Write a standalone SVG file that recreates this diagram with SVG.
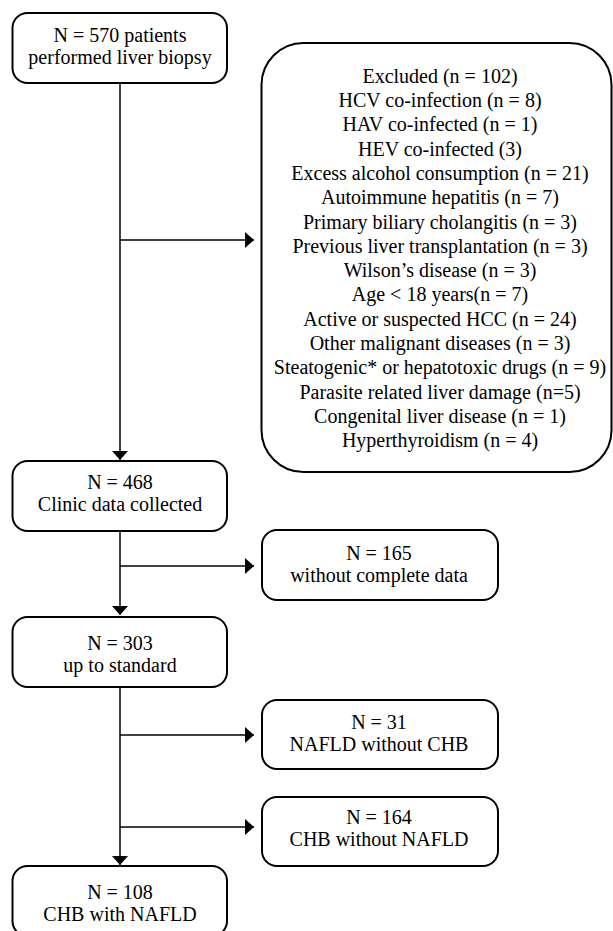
<svg xmlns="http://www.w3.org/2000/svg" width="613" height="931" viewBox="0 0 613 931">
  <defs>
    <style>
      .box { fill: #ffffff; stroke: #000000; stroke-width: 2; }
      .txt { font-family: "Liberation Serif", "DejaVu Serif", serif; font-size: 20px; fill: #000000; text-anchor: middle; }
      .conn { stroke: #000000; stroke-width: 1.5; fill: none; }
    </style>
    <marker id="arrow" markerUnits="userSpaceOnUse" markerWidth="10" markerHeight="17" refX="9" refY="8" orient="auto" viewBox="0 0 10 17">
      <path d="M0,0 L9,8 L0,16 z" fill="#000000"/>
    </marker>
  </defs>
  <rect width="613" height="931" fill="#ffffff"/>

  <g id="connectors">
    <line class="conn" x1="120" y1="83" x2="120" y2="460" marker-end="url(#arrow)"/>
    <line class="conn" x1="120" y1="240" x2="254" y2="240" marker-end="url(#arrow)"/>
    <line class="conn" x1="120" y1="531" x2="120" y2="615" marker-end="url(#arrow)"/>
    <line class="conn" x1="120" y1="566" x2="254" y2="566" marker-end="url(#arrow)"/>
    <line class="conn" x1="120" y1="687" x2="120" y2="865" marker-end="url(#arrow)"/>
    <line class="conn" x1="120" y1="735" x2="254" y2="735" marker-end="url(#arrow)"/>
    <line class="conn" x1="120" y1="827" x2="254" y2="827" marker-end="url(#arrow)"/>
  </g>

  <g id="node-start">
    <rect class="box" x="12.5" y="13" width="214.5" height="70" rx="15"/>
    <text class="txt" x="120" y="42">N = 570 patients</text>
    <text class="txt" x="120" y="64">performed liver biopsy</text>
  </g>

  <g id="node-excluded">
    <rect class="box" x="261.5" y="43" width="350" height="429" rx="42"/>
    <text class="txt" x="440" y="82.7">Excluded (n = 102)</text>
    <text class="txt" x="440" y="107">HCV co-infection (n = 8)</text>
    <text class="txt" x="440" y="131.3">HAV co-infected (n = 1)</text>
    <text class="txt" x="440" y="155.6">HEV co-infected (3)</text>
    <text class="txt" x="440" y="179.9">Excess alcohol consumption (n = 21)</text>
    <text class="txt" x="440" y="204.2">Autoimmune hepatitis (n = 7)</text>
    <text class="txt" x="440" y="228.5">Primary biliary cholangitis (n = 3)</text>
    <text class="txt" x="440" y="252.8">Previous liver transplantation (n = 3)</text>
    <text class="txt" x="440" y="277.1">Wilson’s disease (n = 3)</text>
    <text class="txt" x="440" y="301.4">Age &lt; 18 years(n = 7)</text>
    <text class="txt" x="440" y="325.7">Active or suspected HCC (n = 24)</text>
    <text class="txt" x="440" y="350">Other malignant diseases (n = 3)</text>
    <text class="txt" x="440" y="374.3">Steatogenic* or hepatotoxic drugs (n = 9)</text>
    <text class="txt" x="440" y="398.6">Parasite related liver damage (n=5)</text>
    <text class="txt" x="440" y="422.9">Congenital liver disease (n = 1)</text>
    <text class="txt" x="440" y="447.2">Hyperthyroidism (n = 4)</text>
  </g>

  <g id="node-collected">
    <rect class="box" x="12.5" y="461" width="214.5" height="70" rx="15"/>
    <text class="txt" x="120" y="489">N = 468</text>
    <text class="txt" x="120" y="511">Clinic data collected</text>
  </g>

  <g id="node-incomplete">
    <rect class="box" x="262" y="530" width="236" height="70" rx="15"/>
    <text class="txt" x="379" y="560">N = 165</text>
    <text class="txt" x="379" y="582">without complete data</text>
  </g>

  <g id="node-standard">
    <rect class="box" x="12.5" y="617" width="214.5" height="70" rx="15"/>
    <text class="txt" x="120" y="650">N = 303</text>
    <text class="txt" x="120" y="672">up to standard</text>
  </g>

  <g id="node-nafld-only">
    <rect class="box" x="262" y="700" width="236" height="69" rx="15"/>
    <text class="txt" x="379" y="729">N = 31</text>
    <text class="txt" x="379" y="751">NAFLD without CHB</text>
  </g>

  <g id="node-chb-only">
    <rect class="box" x="262" y="797" width="236" height="69" rx="15"/>
    <text class="txt" x="379" y="824">N = 164</text>
    <text class="txt" x="379" y="846">CHB without NAFLD</text>
  </g>

  <g id="node-chb-nafld">
    <rect class="box" x="12.5" y="866" width="214.5" height="70" rx="15"/>
    <text class="txt" x="120" y="899">N = 108</text>
    <text class="txt" x="120" y="921">CHB with NAFLD</text>
  </g>
</svg>
